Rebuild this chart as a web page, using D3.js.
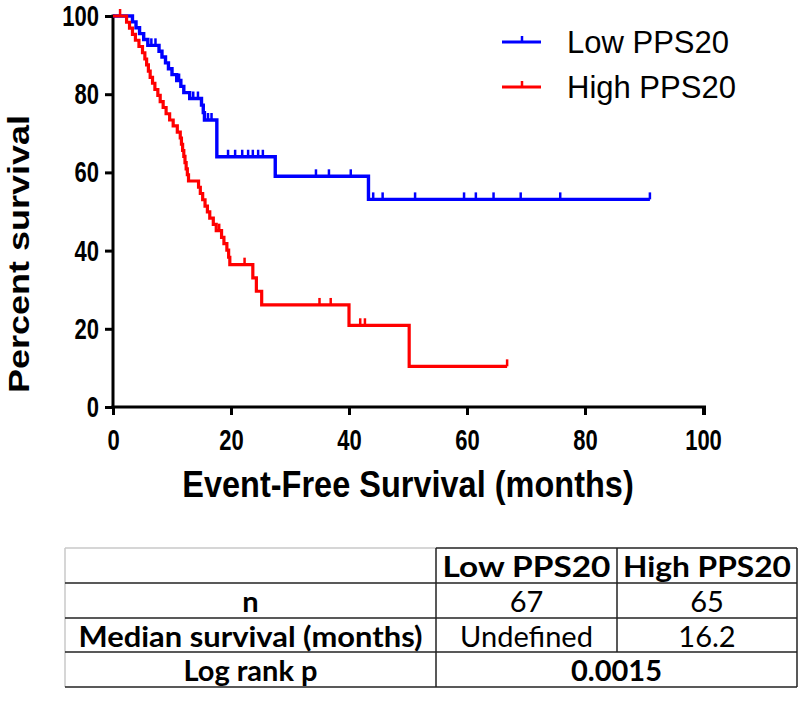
<!DOCTYPE html>
<html>
<head>
<meta charset="utf-8">
<script src="https://cdn.jsdelivr.net/npm/d3@7"></script>
<style>
  html, body { margin: 0; padding: 0; background: #fff; }
  svg { display: block; }
</style>
</head>
<body>
<svg id="chart" width="800" height="716"></svg>
<script>
// ---------------- DATA ----------------
const seriesNames = ["Low PPS20", "High PPS20"];
const seriesColors = ["#0000ff", "#ff0000"];

// Low PPS20: event times (months) and survival (%) after each event
const lowTimes = [3.3, 3.9, 4.5, 5.2, 5.9, 7.8, 8.3, 8.9, 9.4, 10.0, 10.8, 11.5, 12.0, 13.0, 15.0, 15.3, 15.5, 17.6, 27.5, 43.3];
const lowSurv  = [98.5, 97.0, 95.5, 94.0, 92.5, 91.0, 89.5, 88.0, 86.5, 85.0, 83.5, 82.0, 80.4, 78.9, 77.2, 75.3, 73.4, 64.0, 59.0, 53.1];
const lowCensor = [6.5, 7.2, 11.2, 13.6, 14.4, 16.1, 16.7, 19.5, 20.7, 21.9, 22.9, 23.7, 24.6, 25.4, 34.4, 36.6, 40.3, 44.1, 45.7, 51.2, 59.5, 61.5, 64.5, 69.1, 75.8, 91.0];
const lowEnd = 91.0;

// High PPS20
const highTimes = [2.3, 2.8, 3.3, 3.8, 4.4, 5.0, 5.4, 5.7, 6.0, 6.3, 6.7, 7.1, 7.6, 8.0, 8.5, 9.0, 9.6, 10.2, 10.9, 11.4, 11.6, 11.8, 12.0, 12.2, 12.4, 12.6, 12.8, 14.5, 14.8, 15.2, 15.6, 16.0, 16.4, 17.0, 17.5, 18.4, 18.8, 19.3, 19.6, 19.8, 23.7, 24.3, 25.2, 40.0, 50.2];
const highSurv  = [98.4, 96.9, 95.3, 93.8, 92.2, 90.6, 89.0, 87.5, 85.9, 84.3, 82.8, 81.2, 79.7, 78.1, 76.6, 75.0, 73.4, 71.9, 70.3, 68.8, 67.2, 65.6, 64.1, 62.5, 60.9, 59.4, 57.8, 56.2, 54.6, 53.0, 51.4, 49.9, 48.3, 46.7, 45.1, 43.4, 41.8, 40.1, 38.3, 36.4, 33.0, 29.6, 26.1, 20.9, 10.4];
const highCensor = [1.2, 18.0, 22.3, 35.0, 36.9, 41.9, 42.7, 66.8];
const highEnd = 66.8;

const xTicks = [0, 20, 40, 60, 80, 100];
const yTicks = [0, 20, 40, 60, 80, 100];
const xTitle = "Event-Free Survival (months)";
const yTitle = "Percent survival";

// Summary table
const tableHeader = ["", "Low PPS20", "High PPS20"];
const tableRowLabels = ["n", "Median survival (months)"];
const tableLow = ["67", "Undefined"];
const tableHigh = ["65", "16.2"];
const logRankLabel = "Log rank p";
const logRankValue = "0.0015";

// ---------------- CHART ----------------
const svg = d3.select("#chart");
const x = d3.scaleLinear().domain([0, 100]).range([113, 703]);
const y = d3.scaleLinear().domain([0, 100]).range([407, 16]);

const axisFont = "'Liberation Sans', Arial, sans-serif";
const tickStretch = 1.35;

// axes
const yAxis = svg.append("g").attr("transform", `translate(${x(0)},0)`)
  .call(d3.axisLeft(y).tickValues(yTicks).tickSize(8).tickPadding(6).tickSizeOuter(0));
const xAxis = svg.append("g").attr("transform", `translate(0,${y(0)})`)
  .call(d3.axisBottom(x).tickValues(xTicks).tickSize(8).tickPadding(10).tickSizeOuter(0));
[xAxis, yAxis].forEach(g => {
  g.select(".domain").attr("stroke", "#000").attr("stroke-width", 3);
  g.selectAll(".tick line").attr("stroke", "#000").attr("stroke-width", 3);
  g.selectAll(".tick text").attr("fill", "#000")
    .style("font-family", axisFont).style("font-size", "22px").style("font-weight", "bold");
});
yAxis.selectAll(".tick text").attr("transform", `scale(1,${tickStretch})`);
xAxis.selectAll(".tick text").attr("y", 0).attr("dy", "0.72em")
  .attr("transform", `translate(0,22) scale(1,${tickStretch})`);
// extend domains to cover corner
xAxis.select(".domain").attr("d", `M${x(0) - 1.5},0H${x(100) + 1.5}V8`);
yAxis.select(".domain").attr("d", `M0,${y(0) + 1.5}V${y(100) - 1.5}`);

svg.append("text")
  .attr("transform", `translate(${x(50)},497) scale(1,1.12)`)
  .attr("text-anchor", "middle")
  .style("font-family", axisFont).style("font-size", "32.5px").style("font-weight", "bold")
  .text(xTitle);

svg.append("text")
  .attr("transform", `translate(29,254) scale(1,1.2) rotate(-90)`)
  .attr("text-anchor", "middle")
  .style("font-family", axisFont).style("font-size", "30px").style("font-weight", "bold")
  .text(yTitle);

// curves
function kmPoints(times, surv, end) {
  const pts = [[0, 100]];
  times.forEach((t, i) => pts.push([t, surv[i]]));
  pts.push([end, surv[surv.length - 1]]);
  return pts;
}
function survAt(times, surv, t) {
  let s = 100;
  for (let i = 0; i < times.length; i++) if (times[i] <= t) s = surv[i];
  return s;
}
const line = d3.line().x(d => x(d[0])).y(d => y(d[1])).curve(d3.curveStepAfter);

const series = [
  { times: lowTimes, surv: lowSurv, censor: lowCensor, end: lowEnd, color: seriesColors[0], w: 3.4 },
  { times: highTimes, surv: highSurv, censor: highCensor, end: highEnd, color: seriesColors[1], w: 3.2 }
];
series.forEach(s => {
  svg.append("path")
    .datum(kmPoints(s.times, s.surv, s.end))
    .attr("fill", "none").attr("stroke", s.color).attr("stroke-width", s.w)
    .attr("stroke-linejoin", "miter")
    .attr("d", line);
  svg.append("g").selectAll("line").data(s.censor).join("line")
    .attr("x1", d => x(d)).attr("x2", d => x(d))
    .attr("y1", d => y(survAt(s.times, s.surv, d)))
    .attr("y2", d => y(survAt(s.times, s.surv, d)) - 7)
    .attr("stroke", s.color).attr("stroke-width", 2.5);
});

// legend
const legend = svg.append("g");
seriesNames.forEach((name, i) => {
  const ly = 42 + i * 45;
  legend.append("line").attr("x1", 502).attr("x2", 541).attr("y1", ly).attr("y2", ly)
    .attr("stroke", seriesColors[i]).attr("stroke-width", 3);
  legend.append("line").attr("x1", 522).attr("x2", 522).attr("y1", ly).attr("y2", ly - 6)
    .attr("stroke", seriesColors[i]).attr("stroke-width", 2.5);
  legend.append("text").attr("x", 567).attr("y", ly + 11)
    .style("font-family", axisFont).style("font-size", "31px")
    .text(name);
});

// ---------------- TABLE ----------------
const tFont = "Lato, 'Open Sans', sans-serif";
const cols = [65, 436, 617, 797];
const rows = [548, 583, 618, 652, 687];
const tbl = svg.append("g");

function cellText(cx, cy, txt, bold, len) {
  const t = tbl.append("text").attr("x", cx).attr("y", cy)
    .attr("text-anchor", "middle").attr("dominant-baseline", "central")
    .style("font-family", tFont).style("font-size", "29px")
    .style("font-weight", bold ? "bold" : "normal")
    .text(txt);
  if (len) t.attr("textLength", len).attr("lengthAdjust", "spacingAndGlyphs");
}
function hline(x1, x2, yy, c) {
  tbl.append("line").attr("x1", x1).attr("x2", x2).attr("y1", yy).attr("y2", yy)
    .attr("stroke", c).attr("stroke-width", 1.5);
}
function vline(xx, y1, y2, c) {
  tbl.append("line").attr("x1", xx).attr("x2", xx).attr("y1", y1).attr("y2", y2)
    .attr("stroke", c).attr("stroke-width", 1.5);
}
// borders
hline(cols[0], cols[1], rows[0], "#c8c8c8");
hline(cols[1], cols[3], rows[0], "#222");
vline(cols[0], rows[0], rows[4], "#c8c8c8");
for (let r = 1; r <= 4; r++) hline(cols[0], cols[3], rows[r], "#222");
vline(cols[1], rows[0], rows[4], "#222");
vline(cols[2], rows[0], rows[3], "#222");
vline(cols[3], rows[0], rows[4], "#222");

const mid = (a, b) => (a + b) / 2;
cellText(mid(cols[1], cols[2]), mid(rows[0], rows[1]), tableHeader[1], true, 168);
cellText(mid(cols[2], cols[3]), mid(rows[0], rows[1]), tableHeader[2], true, 168);
tableRowLabels.forEach((lab, i) => {
  const cy = mid(rows[i + 1], rows[i + 2]);
  cellText(mid(cols[0], cols[1]), cy, lab, true, i === 1 ? 344 : null);
  cellText(mid(cols[1], cols[2]), cy, tableLow[i], false);
  cellText(mid(cols[2], cols[3]), cy, tableHigh[i], false);
});
cellText(mid(cols[0], cols[1]), mid(rows[3], rows[4]), logRankLabel, true);
cellText(mid(cols[1], cols[3]), mid(rows[3], rows[4]), logRankValue, true);
</script>
</body>
</html>
